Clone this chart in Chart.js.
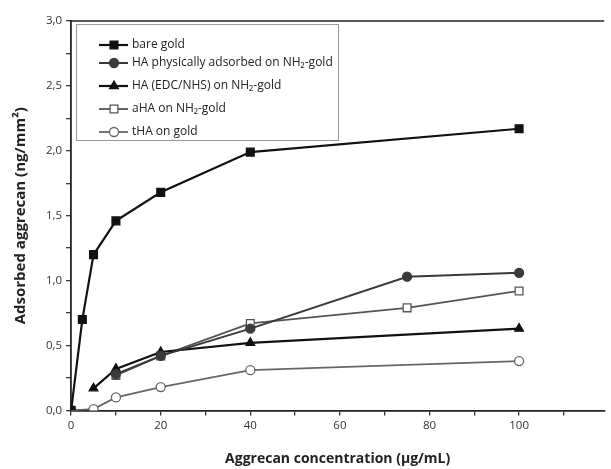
<!DOCTYPE html>
<html><head><meta charset="utf-8">
<script src="https://cdn.jsdelivr.net/npm/chart.js@4.4.1/dist/chart.umd.min.js"></script>
<style>html,body{margin:0;padding:0;background:#fff}#w{width:611px;height:469px}</style>
</head><body><div id="w"><canvas id="c"></canvas></div>
<script>
const seriesNames = ["bare gold","HA physically adsorbed on NH\u2082-gold","HA (EDC/NHS) on NH\u2082-gold","aHA on NH\u2082-gold","tHA on gold"];
const bareGoldX = [0,2.5,5,10,20,40,100];
const bareGoldY = [0,0.70,1.20,1.46,1.68,1.99,2.17];
const haPhysX = [10,20,40,75,100];
const haPhysY = [0.28,0.42,0.63,1.03,1.06];
const haEdcX = [5,10,20,40,100];
const haEdcY = [0.17,0.32,0.45,0.52,0.63];
const aHAX = [10,20,40,75,100];
const aHAY = [0.27,0.42,0.67,0.79,0.92];
const tHAX = [0,5,10,20,40,100];
const tHAY = [0,0.01,0.10,0.18,0.31,0.38];
const xTickLabels = [0,20,40,60,80,100];
const yTickLabels = [0,0.5,1.0,1.5,2.0,2.5,3.0];

const pts = (xs, ys) => xs.map((x,i)=>({x:x,y:ys[i]}));
const styles = [
 {c:'#111', fill:'#111', s:'rect', r:5.5, lw:2.2},
 {c:'#3a3a3a', fill:'#3a3a3a', s:'circle', r:4.5, lw:2},
 {c:'#111', fill:'#111', s:'triangle', r:5, lw:2.2},
 {c:'#555', fill:'#fff', s:'rect', r:5.5, lw:1.8},
 {c:'#666', fill:'#fff', s:'circle', r:4.5, lw:1.8}
];
const dataArr = [pts(bareGoldX,bareGoldY),pts(haPhysX,haPhysY),pts(haEdcX,haEdcY),pts(aHAX,aHAY),pts(tHAX,tHAY)];
const datasets = dataArr.map((d,i)=>({
  label: seriesNames[i], data: d, borderColor: styles[i].c, backgroundColor: styles[i].fill,
  pointBackgroundColor: styles[i].fill, pointBorderColor: styles[i].c, pointBorderWidth:1.3,
  pointStyle: styles[i].s, pointRadius: styles[i].r, borderWidth: styles[i].lw, tension:0, showLine:true
}));

const legendBox = {
  id:'legendBox',
  afterDraw(chart){
    const ctx = chart.ctx;
    const x0=76, y0=24, x1=338, y1=140;
    ctx.save();
    ctx.fillStyle='#fff'; ctx.fillRect(x0,y0,x1-x0,y1-y0);
    ctx.strokeStyle='#999'; ctx.lineWidth=1; ctx.strokeRect(x0+0.5,y0+0.5,x1-x0,y1-y0);
    const rows=[45,63,86,109,132];
    chart.data.datasets.forEach((ds,i)=>{
      const y=rows[i];
      ctx.strokeStyle=ds.borderColor; ctx.lineWidth=ds.borderWidth;
      ctx.beginPath(); ctx.moveTo(99,y); ctx.lineTo(128,y); ctx.stroke();
      ctx.fillStyle=ds.pointBackgroundColor; ctx.strokeStyle=ds.pointBorderColor; ctx.lineWidth=1.3;
      Chart.helpers.drawPoint(ctx,{pointStyle:ds.pointStyle,radius:ds.pointRadius,borderWidth:1.3},114,y);
      ctx.fillStyle='#222'; ctx.font='12px "Open Sans"'; ctx.textBaseline='middle';
      ctx.fillText(ds.label,132,y);
    });
    const a=chart.chartArea;
    ctx.strokeStyle='#222'; ctx.lineWidth=1.5;
    ctx.beginPath(); ctx.moveTo(a.left,a.top); ctx.lineTo(a.right,a.top); ctx.stroke();
    ctx.restore();
  }
};

new Chart(document.getElementById('c'),{
  type:'scatter',
  data:{datasets},
  options:{
    responsive:true, maintainAspectRatio:false, animation:false,
    layout:{padding:{top:21,right:0,left:12,bottom:2}},
    plugins:{legend:{display:false},tooltip:{enabled:false}},
    scales:{
      x:{type:'linear',min:0,max:119,
        ticks:{stepSize:10,includeBounds:false,autoSkip:false,maxRotation:0,color:'#333',font:{family:'Open Sans',size:11.5},padding:3,
          callback:v=> (xTickLabels.includes(v)? String(v):'')},
        grid:{drawOnChartArea:false,drawTicks:true,tickLength:5,color:'#333',lineWidth:1.3},
        border:{color:'#222',width:1.8},
        title:{display:true,text:'Aggrecan concentration (\u00b5g/mL)',color:'#222',font:{family:'Open Sans',size:14,weight:'bold'},padding:{top:15,bottom:0}}
      },
      y:{type:'linear',min:0,max:3,
        ticks:{stepSize:0.25,autoSkip:false,color:'#333',font:{family:'Open Sans',size:11.5},padding:4,
          callback:v=>{const m=yTickLabels.find(t=>Math.abs(t-v)<1e-6); return m===undefined?'':m.toFixed(1).replace('.',',');}},
        grid:{drawOnChartArea:false,drawTicks:true,tickLength:5,color:'#333',lineWidth:1.3},
        border:{color:'#222',width:1.8},
        title:{display:true,text:'Adsorbed aggrecan (ng/mm\u00b2)',color:'#222',font:{family:'Open Sans',size:15,weight:'bold'},padding:{top:0,bottom:12}}
      }
    }
  },
  plugins:[legendBox]
});
</script></body></html>
